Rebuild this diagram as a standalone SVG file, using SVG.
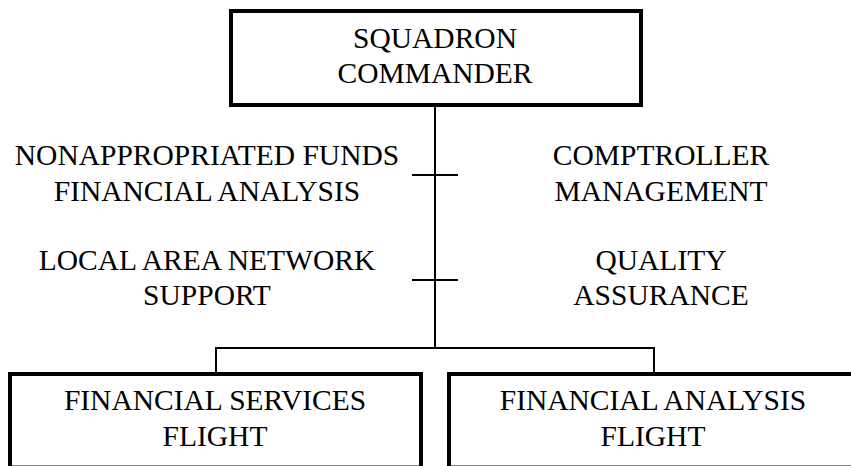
<svg xmlns="http://www.w3.org/2000/svg" width="851" height="466" viewBox="0 0 851 466">
<style>
  .box { fill: #ffffff; stroke: #000000; stroke-width: 4; }
  .conn { stroke: #000000; stroke-width: 2; fill: none; }
  text { font-family: "Liberation Serif", "Times New Roman", serif; font-size: 29.5px; fill: #000000; text-anchor: middle; }
</style>
<rect x="0" y="0" width="851" height="466" fill="#ffffff"/>
<g id="connectors">
  <line class="conn" x1="435" y1="107" x2="435" y2="348"/>
  <line class="conn" x1="412" y1="175" x2="458" y2="175"/>
  <line class="conn" x1="412" y1="280" x2="458" y2="280"/>
  <line class="conn" x1="215" y1="348" x2="655" y2="348"/>
  <line class="conn" x1="216" y1="348" x2="216" y2="372"/>
  <line class="conn" x1="654" y1="348" x2="654" y2="372"/>
</g>
<g id="squadron-commander">
  <rect class="box" x="231" y="11" width="410" height="94"/>
  <text x="435" y="48">SQUADRON</text>
  <text x="435" y="83">COMMANDER</text>
</g>
<g id="naf-financial-analysis">
  <text x="207" y="165">NONAPPROPRIATED FUNDS</text>
  <text x="207" y="201">FINANCIAL ANALYSIS</text>
</g>
<g id="comptroller-management">
  <text x="661" y="165">COMPTROLLER</text>
  <text x="661" y="201">MANAGEMENT</text>
</g>
<g id="lan-support">
  <text x="207" y="270">LOCAL AREA NETWORK</text>
  <text x="207" y="305">SUPPORT</text>
</g>
<g id="quality-assurance">
  <text x="661" y="270">QUALITY</text>
  <text x="661" y="305">ASSURANCE</text>
</g>
<g id="financial-services-flight">
  <rect class="box" x="10" y="374" width="411" height="93.5"/>
  <text x="215" y="410">FINANCIAL SERVICES</text>
  <text x="215" y="446">FLIGHT</text>
</g>
<g id="financial-analysis-flight">
  <rect class="box" x="449" y="374" width="411" height="93.5"/>
  <text x="653" y="410">FINANCIAL ANALYSIS</text>
  <text x="653" y="446">FLIGHT</text>
</g>
</svg>
